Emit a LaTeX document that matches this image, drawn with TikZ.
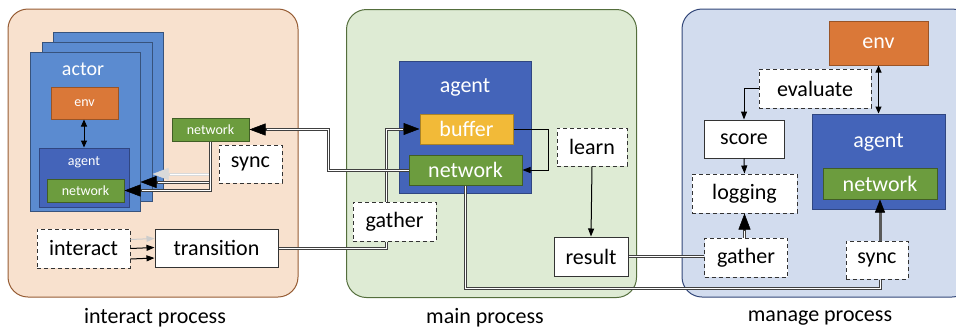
\documentclass[tikz,border=0pt]{standalone}
\usepackage{fontspec}
\setmainfont{Carlito}
\usetikzlibrary{arrows.meta, calc, positioning}

\definecolor{peach}{RGB}{248,225,206}
\definecolor{peachline}{RGB}{150,92,52}
\definecolor{mint}{RGB}{222,235,212}
\definecolor{mintline}{RGB}{84,110,60}
\definecolor{sky}{RGB}{210,220,238}
\definecolor{skyline}{RGB}{50,70,120}
\definecolor{actorblue}{RGB}{91,139,208}
\definecolor{agentblue}{RGB}{68,100,185}
\definecolor{envorange}{RGB}{218,120,56}
\definecolor{netgreen}{RGB}{108,156,62}
\definecolor{bufyellow}{RGB}{242,186,56}

\tikzset{
  proc/.style={draw, line width=1pt, rounded corners=20pt, minimum width=290pt, minimum height=288pt},
  plain/.style={draw=black!80, fill=white, inner sep=0pt, font=\fontsize{22}{24}\selectfont},
  dbox/.style={plain, dash pattern=on 4pt off 3pt},
  agentbox/.style={draw=agentblue!70!black, fill=agentblue, inner sep=0pt},
  actorbox/.style={draw=actorblue!60!black, fill=actorblue, minimum width=110pt, minimum height=159pt, inner sep=0pt},
  colbox/.style={inner sep=0pt, text=white},
  small/.style={font=\fontsize{14}{16}\selectfont},
  big/.style={font=\fontsize{22}{24}\selectfont},
  conn/.style={draw=black!75, line width=3pt, postaction={draw=white, line width=1pt}},
  conntip/.style={draw=black!75, line width=3pt,
    -{Triangle[length=16pt,width=12pt,line width=0.5pt,fill=black,color=black]},
    postaction={draw=white, line width=1pt, -, shorten >=17pt}},
  smalltip/.style={-{Triangle[length=8pt,width=6pt]}},
  bothtip/.style={{Triangle[length=7pt,width=6pt]}-{Triangle[length=7pt,width=6pt]}},
}

\begin{document}
\begin{tikzpicture}[x=1pt, y=-1pt, line width=1pt]
\useasboundingbox (0,0) rectangle (956,333);

% panels
\node[proc, draw=peachline, fill=peach] (pInter) at (153,153) {};
\node[proc, draw=mintline, fill=mint] (pMain) at (491.5,153.5) {};
\node[proc, draw=skyline, fill=sky] (pMan) at (827,153) {};
\node[big] (tInter) at (155,318) {interact process};
\node[big] (tMain) at (485,318) {main process};
\node[big] (tMan) at (820,318) {manage process};

% interact process
\node[actorbox] (actB) at (108,111.5) {};
\node[actorbox] (actM) at (97,121.5) {};
\node[actorbox] (actF) at (85,131.5) {};
\node[colbox, font=\fontsize{20}{22}\selectfont] (actT) at (83,69) {actor};
\node[colbox, small, draw=envorange!70!black, fill=envorange, minimum width=67pt, minimum height=32pt] (envI) at (84.5,103) {env};
\node[agentbox, minimum width=90pt, minimum height=59pt] (agI) at (84,177.5) {};
\node[colbox, small] (agIT) at (84,162) {agent};
\node[colbox, small, draw=netgreen!60!black, fill=netgreen, minimum width=77pt, minimum height=23pt] (netA) at (85.5,190.5) {network};
\draw[bothtip] (envI.south -| agI.north) -- (agI.north);

\node[colbox, small, draw=netgreen!60!black, fill=netgreen, minimum width=77pt, minimum height=23pt] (netI) at (210.5,129.5) {network};
\node[dbox, minimum width=63pt, minimum height=38pt] (syncI) at (250.5,164) {sync};
\draw[conntip, draw=black!15, -{Triangle[length=16pt,width=12pt,line width=0.5pt,fill=black!15,color=black!15]}]
  (netI.south) |- ([yshift=-52.5pt]actM.east);
\draw[conntip] (netI.south) |- ([yshift=-50.5pt]actF.east);
\draw[conntip] (netI.south) |- (netA.east);

\node[dbox, minimum width=93pt, minimum height=39pt] (inter) at (83.5,248.5) {interact};
\node[plain, minimum width=123pt, minimum height=38pt] (trans) at (216.5,248) {transition};
\draw[black!20, smalltip] ([yshift=9pt]inter.east) -- ([yshift=9.5pt]trans.west);
\draw[smalltip] (inter.east) -- ([yshift=0.5pt]trans.west);
\draw[smalltip] ([yshift=-10.5pt]inter.east) -- ([yshift=-10pt]trans.west);

% main process
\node[agentbox, minimum width=132pt, minimum height=132pt] (agM) at (465,127) {};
\node[colbox, big] (agMT) at (465,87) {agent};
\node[colbox, big, draw=bufyellow!70!black, fill=bufyellow, minimum width=93pt, minimum height=30pt] (buf) at (466.5,129) {buffer};
\node[colbox, big, draw=netgreen!60!black, fill=netgreen, minimum width=113pt, minimum height=30pt] (netM) at (465.5,170) {network};
\draw[smalltip] (buf.east) -- ++(35,0) |- (netM.east);
\node[dbox, minimum width=70pt, minimum height=38pt] (learn) at (592,147) {learn};
\node[plain, minimum width=74pt, minimum height=39pt] (result) at (591,256.5) {result};
\draw[smalltip] (learn.south) -- (result.north);
\node[dbox, minimum width=83pt, minimum height=39pt] (gathM) at (394.5,221.5) {gather};
\draw[conn] (trans.east) -| ([xshift=-8.5pt]gathM.south);
\draw[conntip] ([xshift=-8.5pt]gathM.north) |- (buf.west);
\draw[conntip] (netM.west) -- ++(-80,0) |- (netI.east);

% manage process
\node[colbox, big, draw=envorange!70!black, fill=envorange, minimum width=99pt, minimum height=44pt] (envG) at (878.5,43) {env};
\node[agentbox, minimum width=133pt, minimum height=95pt] (agG) at (878.5,161.5) {};
\node[colbox, big] (agGT) at (878.5,142) {agent};
\node[colbox, big, draw=netgreen!60!black, fill=netgreen, minimum width=114pt, minimum height=31pt] (netG) at (880,183.5) {network};
\draw[bothtip] (envG.south) -- (agG.north);
\node[dbox, minimum width=112pt, minimum height=39pt] (eval) at (815,88.5) {evaluate};
\node[plain, minimum width=80pt, minimum height=38pt] (score) at (744,139) {score};
\node[dbox, minimum width=105pt, minimum height=39pt] (logg) at (744.5,193.5) {logging};
\node[dbox, minimum width=83pt, minimum height=39pt] (gathG) at (746,257.5) {gather};
\node[dbox, minimum width=62pt, minimum height=38pt] (syncG) at (877,260) {sync};
\draw[smalltip] (eval.west) -| (score.north);
\draw[smalltip] (score.south) -- (logg.north);
\draw[conntip] (logg.south |- gathG.north) -- (logg.south);
\draw[draw=black!65, line width=3pt, -{Triangle[length=13pt,width=10pt,line width=0.5pt,fill=black,color=black]}] ([xshift=3pt]syncG.north) -- ([xshift=3pt]syncG.north |- netG.south);
\draw[conn] (result.east) -- (result.east -| gathG.west);
\draw[conn] (netM.south) -- ++(0,103) -| ([xshift=3pt]syncG.south);
\end{tikzpicture}
\end{document}
